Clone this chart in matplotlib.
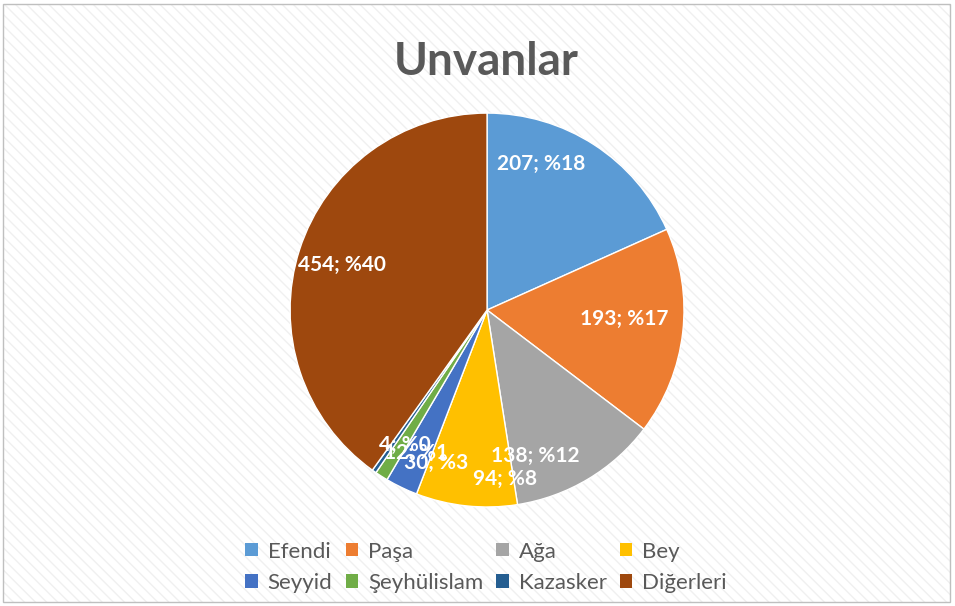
import matplotlib
matplotlib.use("Agg")
import matplotlib.pyplot as plt
from matplotlib.patches import Rectangle
import numpy as np

categories = ["Efendi", "Paşa", "Ağa", "Bey", "Seyyid", "Şeyhülislam", "Kazasker", "Diğerleri"]
values = [207, 193, 138, 94, 30, 12, 4, 454]
colors = ["#5B9BD5", "#ED7D31", "#A5A5A5", "#FFC000", "#4472C4", "#70AD47", "#255E91", "#9E480E"]
title = "Unvanlar"

# label layout (polar: angle in degrees, radius fraction) to mimic Excel best-fit
label_layout = [(69.6, 0.79), (-3.7, 0.70), (-71.7, 0.78), (-84.0, 0.86),
                (-108.4, 0.82), (-116.6, 0.81), (-121.3, 0.80), (162.8, 0.77)]

plt.rcParams['font.family'] = ['Lato', 'DejaVu Sans']

fig = plt.figure(figsize=(9.55, 6.06), dpi=100)
fig.patch.set_facecolor("white")

# background hatch and border
bg = Rectangle((0.003, 0.006), 0.992, 0.988, transform=fig.transFigure,
               facecolor="white", edgecolor="#F0F0F0", hatch="\\\\\\", linewidth=0, zorder=-10)
fig.patches.append(bg)
border = Rectangle((0.003, 0.006), 0.992, 0.988, transform=fig.transFigure,
                   facecolor="none", edgecolor="#BFBFBF", linewidth=1.0, zorder=-5)
fig.patches.append(border)

ax = fig.add_axes([0.3037, 0.1634, 0.4126, 0.650])
wedges, _ = ax.pie(values, colors=colors, startangle=90, counterclock=False,
                   wedgeprops=dict(edgecolor="white", linewidth=1.0), radius=1.0)
ax.set_xlim(-1, 1)
ax.set_ylim(-1, 1)
ax.set_aspect("equal")
ax.axis("off")

total = sum(values)
for v, (ang, r) in zip(values, label_layout):
    pct = int(round(100.0 * v / total))
    x = r * np.cos(np.radians(ang))
    y = r * np.sin(np.radians(ang))
    ax.text(x, y, f"{v}; %{pct}", color="white", fontsize=15, fontweight="bold",
            ha="center", va="center")

fig.text(0.509, 0.898, title, ha="center", va="center", fontsize=33,
         fontweight="bold", color="#595959")

handles = [Rectangle((0, 0), 1, 1, facecolor=c, edgecolor="none") for c in colors]
# matplotlib fills legend columns first; reorder so entries read row by row
order = [0, 4, 1, 5, 2, 6, 3, 7]
leg = fig.legend([handles[i] for i in order], [categories[i] for i in order],
                 loc="center", bbox_to_anchor=(0.509, 0.064),
                 ncol=4, frameon=False, fontsize=16, handlelength=0.55, handleheight=0.55,
                 columnspacing=0.6, handletextpad=0.45, labelspacing=0.5)
for t in leg.get_texts():
    t.set_color("#595959")

fig.savefig("out.png", dpi=100, facecolor="white")
